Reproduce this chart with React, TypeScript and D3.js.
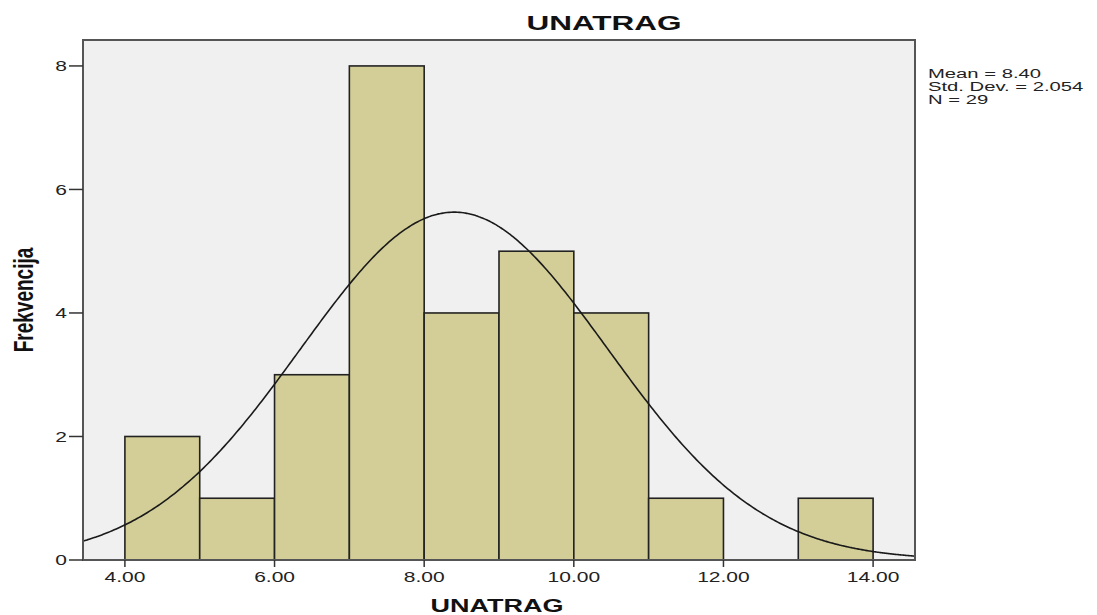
import React from "react";
import * as d3 from "d3";

const binStarts = [4, 5, 6, 7, 8, 9, 10, 11, 12, 13];
const binCounts = [2, 1, 3, 8, 4, 5, 4, 1, 0, 1];
const binWidth = 1;
const xTicks = [4, 6, 8, 10, 12, 14];
const yTicks = [0, 2, 4, 6, 8];
const meanVal = 8.4;
const sdVal = 2.054;
const nVal = 29;
const statLines = ["Mean = 8.40", "Std. Dev. = 2.054", "N = 29"];
const title = "UNATRAG";
const xLabel = "UNATRAG";
const yLabel = "Frekvencija";

const W = 1097;
const H = 615;
const left = 83, right = 915, top = 40, bottom = 560;
const SX = 1.5;
const font = "'Liberation Sans', Arial, Helvetica, sans-serif";

export default function App() {
  const x = d3.scaleLinear().domain([3.44, 14.56]).range([left, right]);
  const y = d3.scaleLinear().domain([0, 8.42]).range([bottom, top]);

  const pdf = (v: number) =>
    (nVal * binWidth) / (sdVal * Math.sqrt(2 * Math.PI)) *
    Math.exp(-0.5 * ((v - meanVal) / sdVal) ** 2);
  const [d0, d1] = x.domain();
  const pts: [number, number][] = d3.range(0, 401).map((i) => {
    const v = d0 + ((d1 - d0) * i) / 400;
    return [v, pdf(v)];
  });
  const line = d3.line<[number, number]>().x((d) => x(d[0])).y((d) => y(d[1])).curve(d3.curveBasis);

  return (
    <svg width={W} height={H} style={{ position: "absolute", left: 0, top: 0 }}>
      <rect x={0} y={0} width={W} height={H} fill="#ffffff" />
      <defs>
        <clipPath id="plotclip">
          <rect x={left} y={top} width={right - left} height={bottom - top} />
        </clipPath>
      </defs>
      <rect x={left} y={top} width={right - left} height={bottom - top} fill="#f0f0f0" />
      {binStarts.map((s, i) =>
        binCounts[i] > 0 ? (
          <rect
            key={i}
            x={x(s)}
            y={y(binCounts[i])}
            width={x(s + binWidth) - x(s)}
            height={y(0) - y(binCounts[i])}
            fill="#d3ce97"
            stroke="#222222"
            strokeWidth={1.6}
          />
        ) : null
      )}
      <path d={line(pts) || ""} fill="none" stroke="#1a1a1a" strokeWidth={1.6} clipPath="url(#plotclip)" />
      <rect x={left} y={top} width={right - left} height={bottom - top} fill="none" stroke="#555555" strokeWidth={2} />
      {yTicks.map((t) => (
        <g key={t}>
          <line x1={69} x2={left} y1={y(t)} y2={y(t)} stroke="#333" strokeWidth={1.5} />
          <text
            transform={`translate(67,${y(t)}) scale(${SX},1)`}
            dy="0.36em"
            textAnchor="end"
            fontFamily={font}
            fontSize={14}
            fill="#222"
          >
            {t}
          </text>
        </g>
      ))}
      {xTicks.map((t) => (
        <g key={t}>
          <line x1={x(t)} x2={x(t)} y1={bottom} y2={bottom + 7} stroke="#333" strokeWidth={1.5} />
          <text
            transform={`translate(${x(t)},582) scale(${SX},1)`}
            textAnchor="middle"
            fontFamily={font}
            fontSize={14}
            fill="#222"
          >
            {t.toFixed(2)}
          </text>
        </g>
      ))}
      <text
        transform={`translate(604,30) scale(${SX},1)`}
        textAnchor="middle"
        fontFamily={font}
        fontSize={21}
        fontWeight="bold"
        fill="#111"
      >
        {title}
      </text>
      <text
        transform={`translate(497,612) scale(${SX},1)`}
        textAnchor="middle"
        fontFamily={font}
        fontSize={18}
        fontWeight="bold"
        fill="#111"
      >
        {xLabel}
      </text>
      <text
        transform={`translate(33,300) scale(${SX},1) rotate(-90)`}
        textAnchor="middle"
        fontFamily={font}
        fontSize={19}
        fontWeight="bold"
        fill="#111"
      >
        {yLabel}
      </text>
      {statLines.map((s, i) => (
        <text
          key={i}
          transform={`translate(928,${78 + i * 13}) scale(${SX},1)`}
          fontFamily={font}
          fontSize={13.5}
          fill="#222"
        >
          {s}
        </text>
      ))}
    </svg>
  );
}
